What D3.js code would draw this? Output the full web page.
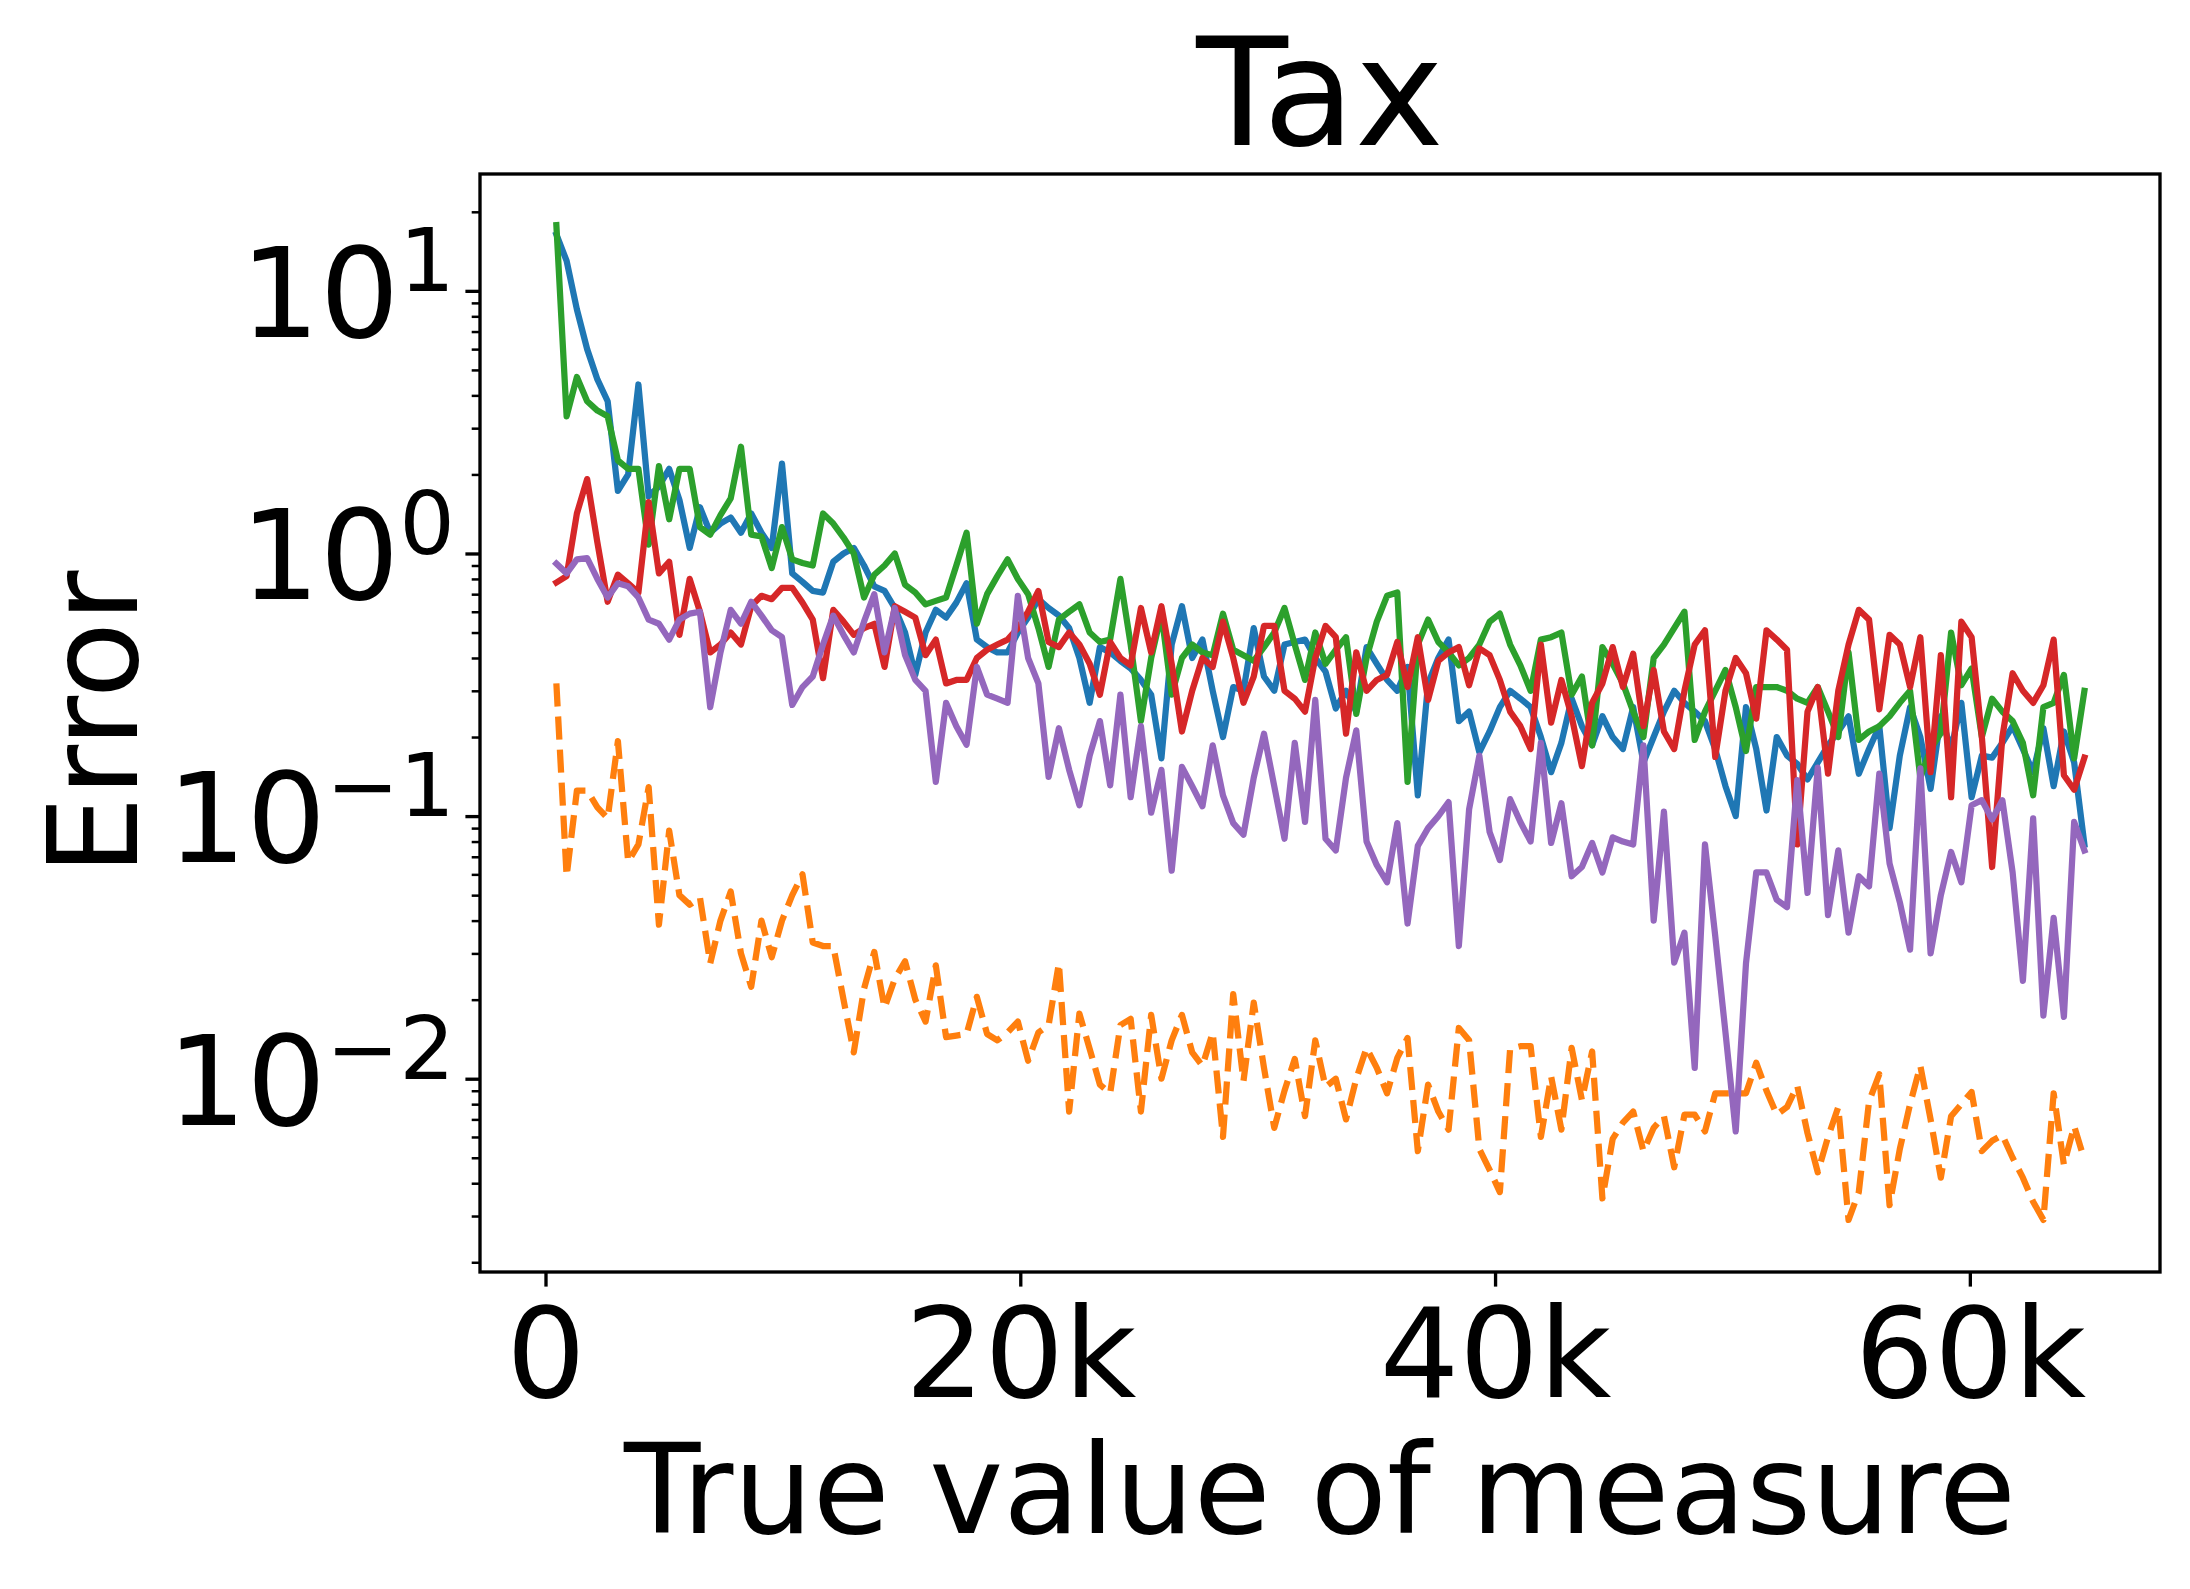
<!DOCTYPE html>
<html><head><meta charset="utf-8">
<script src="https://cdn.jsdelivr.net/npm/d3@7"></script>
<style>html,body{margin:0;padding:0;background:#fff;} svg{display:block;font-family:"DejaVu Sans",sans-serif;}</style>
</head><body><div id="chart"></div>
<script>
// ---- data ----
const xValues = [
458,890,1322,1754,2186,2618,3050,3482,3914,4346,
4778,5210,5642,6074,6506,6938,7370,7802,8234,8666,
9098,9530,9962,10394,10826,11258,11690,12122,12554,12986,
13418,13850,14282,14714,15146,15578,16010,16442,16874,17306,
17738,18170,18602,19034,19466,19898,20330,20762,21194,21626,
22058,22490,22922,23354,23786,24218,24650,25082,25514,25946,
26378,26810,27242,27674,28106,28538,28970,29402,29834,30266,
30698,31130,31562,31994,32426,32858,33290,33722,34154,34586,
35018,35450,35882,36314,36746,37178,37610,38042,38474,38906,
39338,39770,40202,40634,41066,41498,41930,42362,42794,43226,
43658,44090,44522,44954,45386,45818,46250,46682,47114,47546,
47978,48410,48842,49274,49706,50138,50570,51002,51434,51866,
52298,52730,53162,53594,54026,54458,54890,55322,55754,56186,
56618,57050,57482,57914,58346,58778,59210,59642,60074,60506,
60938,61370,61802,62234,62666,63098,63530,63962,64394,64826
];
const seriesBlue = [
16.4,13,8.5,6.0,4.6,3.8,1.73,2.0,4.4,1.65,
1.8,2.1,1.6,1.05,1.5,1.2,1.3,1.37,1.2,1.42,
1.2,1.05,2.2,0.84,0.78,0.72,0.71,0.93,1.0,1.05,
0.9,0.75,0.72,0.62,0.5,0.345,0.5,0.61,0.57,0.65,
0.77,0.47,0.44,0.42,0.42,0.5,0.57,0.67,0.62,0.58,
0.52,0.4,0.27,0.44,0.42,0.39,0.365,0.33,0.29,0.166,
0.45,0.63,0.4,0.47,0.3,0.2,0.31,0.3,0.52,0.34,
0.3,0.45,0.46,0.47,0.4,0.355,0.257,0.3,0.25,0.44,
0.38,0.33,0.3,0.37,0.12,0.32,0.4,0.47,0.23,0.25,
0.175,0.21,0.26,0.3,0.28,0.26,0.2,0.147,0.19,0.28,
0.22,0.186,0.24,0.2,0.18,0.26,0.16,0.2,0.25,0.3,
0.27,0.25,0.23,0.18,0.13,0.1,0.26,0.18,0.105,0.2,
0.17,0.158,0.138,0.16,0.186,0.21,0.24,0.145,0.18,0.22,
0.09,0.17,0.26,0.2,0.127,0.24,0.18,0.27,0.118,0.17,
0.167,0.19,0.22,0.18,0.147,0.216,0.13,0.21,0.16,0.078
];
const seriesOrange = [
0.32,0.059,0.125,0.125,0.108,0.098,0.193,0.067,0.078,0.129,
0.0386,0.088,0.05,0.046,0.049,0.0275,0.04,0.0516,0.03,0.0224,
0.04,0.029,0.04,0.05,0.06,0.033,0.032,0.032,0.02,0.0126,
0.022,0.0304,0.0186,0.024,0.028,0.02,0.0165,0.027,0.0144,0.0146,
0.0148,0.0205,0.0148,0.014,0.015,0.0165,0.0117,0.015,0.016,0.0275,
0.0075,0.0177,0.013,0.0095,0.0088,0.016,0.0169,0.0075,0.0175,0.01,
0.014,0.0175,0.0126,0.0112,0.015,0.006,0.021,0.0098,0.0195,0.011,
0.0065,0.009,0.0119,0.0072,0.014,0.0093,0.01,0.007,0.01,0.0131,
0.011,0.0088,0.012,0.0143,0.0053,0.0095,0.0075,0.0064,0.0156,0.014,
0.0054,0.0045,0.0037,0.013,0.0133,0.0133,0.006,0.0102,0.0064,0.0131,
0.0083,0.0127,0.0035,0.0059,0.0068,0.0075,0.0053,0.0065,0.0072,0.0046,
0.0073,0.0073,0.0063,0.0088,0.0088,0.0088,0.0088,0.0115,0.009,0.0073,
0.0078,0.0094,0.0062,0.0044,0.006,0.0078,0.0029,0.0037,0.0082,0.0104,
0.0033,0.0054,0.008,0.0112,0.007,0.0042,0.0072,0.008,0.0089,0.0053,
0.0058,0.0061,0.005,0.0042,0.0034,0.0029,0.0088,0.0047,0.0066,0.0049
];
const seriesGreen = [
17.8,3.33,4.7,3.8,3.5,3.33,2.26,2.1,2.1,1.08,
2.15,1.35,2.1,2.1,1.26,1.18,1.4,1.62,2.55,1.18,
1.16,0.88,1.26,0.95,0.92,0.9,1.42,1.3,1.15,1.0,
0.68,0.83,0.9,1.0,0.76,0.71,0.64,0.66,0.68,0.9,
1.2,0.54,0.7,0.82,0.95,0.8,0.7,0.52,0.37,0.56,
0.6,0.64,0.5,0.46,0.47,0.8,0.45,0.23,0.4,0.59,
0.29,0.4,0.45,0.42,0.41,0.59,0.43,0.41,0.39,0.44,
0.5,0.62,0.45,0.33,0.5,0.38,0.43,0.48,0.245,0.4,
0.55,0.69,0.71,0.135,0.45,0.56,0.46,0.42,0.375,0.4,
0.45,0.55,0.59,0.45,0.375,0.3,0.47,0.48,0.5,0.29,
0.34,0.186,0.44,0.38,0.32,0.25,0.2,0.4,0.45,0.52,
0.6,0.195,0.25,0.3,0.36,0.26,0.177,0.31,0.31,0.31,
0.3,0.28,0.27,0.31,0.25,0.2,0.42,0.195,0.21,0.22,
0.24,0.27,0.3,0.14,0.18,0.207,0.5,0.315,0.365,0.2,
0.28,0.25,0.23,0.19,0.12,0.26,0.27,0.345,0.166,0.3
];
const seriesRed = [
0.775,0.82,1.42,1.92,1.1,0.655,0.83,0.77,0.71,1.57,
0.84,0.93,0.49,0.8,0.6,0.42,0.45,0.5,0.45,0.63,
0.69,0.67,0.74,0.74,0.65,0.56,0.335,0.61,0.55,0.49,
0.52,0.54,0.37,0.63,0.6,0.57,0.41,0.47,0.32,0.33,
0.33,0.4,0.43,0.45,0.47,0.52,0.6,0.72,0.46,0.44,
0.5,0.45,0.38,0.29,0.46,0.4,0.375,0.62,0.42,0.63,
0.38,0.21,0.3,0.4,0.37,0.55,0.4,0.27,0.34,0.53,
0.53,0.3,0.28,0.25,0.4,0.53,0.48,0.206,0.42,0.3,
0.33,0.345,0.46,0.31,0.48,0.277,0.39,0.42,0.44,0.315,
0.435,0.41,0.33,0.25,0.22,0.18,0.45,0.227,0.33,0.24,
0.155,0.27,0.32,0.44,0.31,0.415,0.22,0.36,0.21,0.18,
0.3,0.45,0.51,0.168,0.3,0.4,0.35,0.235,0.51,0.47,
0.43,0.078,0.25,0.31,0.145,0.3,0.45,0.61,0.56,0.255,
0.49,0.45,0.31,0.48,0.147,0.41,0.118,0.55,0.48,0.2,
0.064,0.2,0.35,0.3,0.27,0.315,0.47,0.143,0.126,0.167
];
const seriesPurple = [
0.915,0.84,0.95,0.96,0.8,0.68,0.77,0.75,0.68,0.56,
0.54,0.47,0.56,0.59,0.6,0.26,0.42,0.61,0.54,0.655,
0.58,0.51,0.48,0.265,0.31,0.34,0.45,0.58,0.49,0.42,
0.55,0.7,0.42,0.62,0.41,0.33,0.3,0.135,0.27,0.22,
0.187,0.37,0.29,0.28,0.27,0.69,0.4,0.32,0.141,0.216,
0.15,0.11,0.17,0.23,0.131,0.29,0.118,0.22,0.103,0.15,
0.062,0.154,0.13,0.109,0.186,0.12,0.094,0.085,0.14,0.206,
0.13,0.082,0.19,0.095,0.277,0.082,0.074,0.14,0.212,0.08,
0.065,0.056,0.094,0.039,0.077,0.09,0.1,0.113,0.032,0.106,
0.17,0.087,0.068,0.116,0.095,0.08,0.19,0.079,0.112,0.059,
0.064,0.079,0.061,0.083,0.08,0.078,0.186,0.04,0.104,0.0277,
0.036,0.011,0.078,0.035,0.015,0.0063,0.0275,0.061,0.061,0.048,
0.045,0.137,0.051,0.153,0.042,0.074,0.036,0.059,0.054,0.145,
0.066,0.047,0.031,0.152,0.03,0.05,0.073,0.056,0.11,0.115,
0.097,0.115,0.061,0.0236,0.098,0.0174,0.041,0.0172,0.095,0.074
];
const seriesColors = ["#1f77b4","#ff7f0e","#2ca02c","#d62728","#9467bd"];
const seriesDashed = [false,true,false,false,false];
const xTickValues = [0,20000,40000,60000];
const xTickLabels = ["0","20k","40k","60k"];
const yTickExponents = [-2,-1,0,1];
const titleText = "Tax";
const xLabelText = "True value of measure";
const yLabelText = "Error";

// ---- layout ----
const W = 2190, H = 1589;
const L = 480, R = 2160, T = 174, B = 1272;
const svg = d3.select("#chart").append("svg").attr("width", W).attr("height", H).attr("viewBox", `0 0 ${W} ${H}`);
svg.append("rect").attr("width", W).attr("height", H).attr("fill", "#fff");

const x = d3.scaleLinear().domain([-2759, 68010]).range([L, R]);
const y = d3.scaleLog().domain([Math.pow(10, -2.736), Math.pow(10, 1.445)]).range([B, T]);

svg.append("clipPath").attr("id", "clip").append("rect")
  .attr("x", L).attr("y", T).attr("width", R - L).attr("height", B - T);

const allSeries = [seriesBlue, seriesOrange, seriesGreen, seriesRed, seriesPurple];
const line = d3.line().x((d, i) => x(xValues[i])).y(d => y(d));
const g = svg.append("g").attr("clip-path", "url(#clip)");
allSeries.forEach((s, k) => {
  g.append("path").attr("d", line(s)).attr("fill", "none")
    .attr("stroke", seriesColors[k]).attr("stroke-width", 6.25)
    .attr("stroke-linejoin", "round")
    .attr("stroke-linecap", seriesDashed[k] ? "butt" : "square")
    .attr("stroke-dasharray", seriesDashed[k] ? "23.1,10" : null);
});

// x axis
const xAxis = svg.append("g").attr("transform", `translate(0,${B})`)
  .call(d3.axisBottom(x).tickValues(xTickValues).tickSize(14.6).tickFormat((d, i) => xTickLabels[i]));
xAxis.select(".domain").remove();
xAxis.selectAll(".tick line").attr("stroke", "#000").attr("stroke-width", 3.33);
xAxis.selectAll(".tick text").attr("y", 124.7).attr("dy", 0)
  .attr("font-size", 125).attr("font-family", "DejaVu Sans").attr("fill", "#000");

// y axis major
const yMajors = yTickExponents.map(e => Math.pow(10, e));
const yAxis = svg.append("g").attr("transform", `translate(${L},0)`)
  .call(d3.axisLeft(y).tickValues(yMajors).tickSize(14.6).tickFormat(""));
yAxis.select(".domain").remove();
yAxis.selectAll(".tick line").attr("stroke", "#000").attr("stroke-width", 3.33);

// y minor ticks
const yMinors = [];
for (let e = -3; e <= 1; e++) for (let m = 2; m <= 9; m++) {
  const v = m * Math.pow(10, e);
  if (v >= y.domain()[0] && v <= y.domain()[1]) yMinors.push(v);
}
const yMinor = svg.append("g").attr("transform", `translate(${L},0)`)
  .call(d3.axisLeft(y).tickValues(yMinors).tickSize(8.3).tickFormat(""));
yMinor.select(".domain").remove();
yMinor.selectAll(".tick line").attr("stroke", "#000").attr("stroke-width", 2.5);

// y tick labels as 10^n
yTickExponents.forEach(e => {
  const ty = y(Math.pow(10, e));
  const t = svg.append("text").attr("x", 455).attr("y", ty + 46)
    .attr("text-anchor", "end").attr("font-size", 125).attr("fill", "#000");
  t.append("tspan").text("10");
  t.append("tspan").attr("dy", -45.6).attr("font-size", 87.5)
    .text(e < 0 ? "\u2212" + Math.abs(e) : String(e));
});

// frame
svg.append("rect").attr("x", L).attr("y", T).attr("width", R - L).attr("height", B - T)
  .attr("fill", "none").attr("stroke", "#000").attr("stroke-width", 3.33);

// labels
svg.append("text").attr("x", (L + R) / 2).attr("y", 145).attr("text-anchor", "middle")
  .attr("font-size", 150).attr("fill", "#000").text(titleText);
svg.append("text").attr("x", (L + R) / 2).attr("y", 1533).attr("text-anchor", "middle")
  .attr("font-size", 125).attr("fill", "#000").text(xLabelText);
svg.append("text").attr("transform", `translate(137,${(T + B) / 2}) rotate(-90)`)
  .attr("text-anchor", "middle").attr("font-size", 125).attr("fill", "#000").text(yLabelText);
</script>
</body></html>
